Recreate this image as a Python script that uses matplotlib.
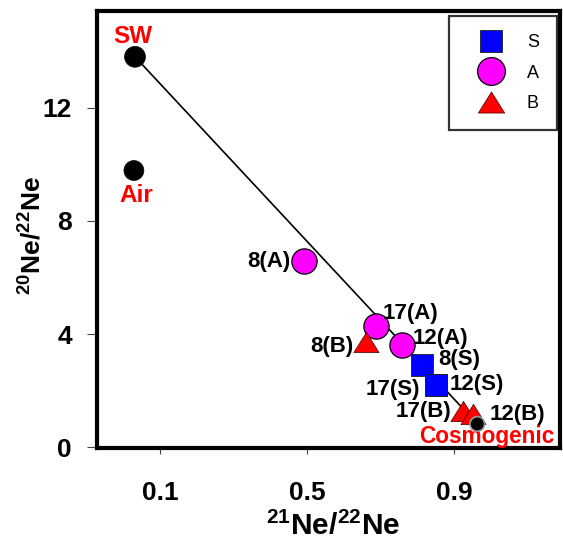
import matplotlib
matplotlib.use("Agg")
import matplotlib.pyplot as plt
from matplotlib.lines import Line2D

plt.rcParams['font.family'] = ['Liberation Sans', 'DejaVu Sans']
plt.rcParams['mathtext.fontset'] = 'custom'
plt.rcParams['mathtext.rm'] = 'Liberation Sans'
plt.rcParams['mathtext.bf'] = 'Liberation Sans:bold'

# Data
s_labels = ["8(S)", "17(S)", "12(S)"]
s_x = [0.813, 0.850, 0.851]
s_y = [2.90, 2.20, 2.21]

a_labels = ["8(A)", "17(A)", "12(A)"]
a_x = [0.492, 0.688, 0.758]
a_y = [6.57, 4.27, 3.60]

b_labels = ["8(B)", "17(B)", "12(B)"]
b_x = [0.661, 0.924, 0.952]
b_y = [3.70, 1.27, 1.16]

end_labels = ["SW", "Air", "Cosmogenic"]
end_x = [0.032, 0.029, 0.963]
end_y = [13.80, 9.78, 0.82]

mix_x = [end_x[0], end_x[2]]
mix_y = [end_y[0], end_y[2]]

x_ticks = [0.1, 0.5, 0.9]
y_ticks = [0, 4, 8, 12]

tri = [(0, 0.8), (-1, -0.8), (1, -0.8), (0, 0.8)]

fig = plt.figure(figsize=(5.63, 5.44), dpi=100)
ax = fig.add_axes([97/563, 1-448/544, 463/563, 437/544])

ax.plot(mix_x, mix_y, color='black', lw=1.2, zorder=2)

ax.scatter(s_x, s_y, marker='s', s=250, c='#0000FF', edgecolors='#202020', linewidths=0.6, zorder=3)
ax.scatter(a_x, a_y, marker='o', s=330, c='#FF00FF', edgecolors='black', linewidths=0.9, zorder=3)
ax.scatter(b_x, b_y, marker=tri, s=330, c='#FF0000', edgecolors='#400000', linewidths=0.5, zorder=3)
ax.scatter(end_x, end_y, marker='o', s=[225, 205, 110], c='black', edgecolors=['black', 'black', '#999999'],
           linewidths=[0.5, 0.5, 1.2], zorder=4)

lbl_kw = dict(textcoords='offset points', fontsize=16, fontweight='bold', va='center')
# sample label offsets in points
s_off = [(11.5, 4.3, 'left'), (-11.5, -3, 'right'), (10, 0, 'left')]
a_off = [(-10, 0, 'right'), (4.5, 9.5, 'left'), (8, 5, 'left')]
b_off = [(-9.5, -3, 'right'), (-8, 0, 'right'), (12, 0, 'left')]
for lbls, xs, ys, offs in [(s_labels, s_x, s_y, s_off), (a_labels, a_x, a_y, a_off), (b_labels, b_x, b_y, b_off)]:
    for t, x, y, (dx, dy, ha) in zip(lbls, xs, ys, offs):
        ax.annotate(t, (x, y), xytext=(dx, dy), ha=ha, **lbl_kw)

end_off = [(-1.5, 14.5, 17.5), (1.5, -18, 17.5), (7.0, -9, 16.3)]
for t, x, y, (dx, dy, fs) in zip(end_labels, end_x, end_y, end_off):
    ax.annotate(t, (x, y), xytext=(dx, dy), ha='center', color='#FF0000',
                **dict(lbl_kw, fontsize=fs))

ax.set_xlim(-0.0714, 1.188)
ax.set_ylim(-0.03, 15.42)
ax.set_xticks(x_ticks)
ax.set_xticklabels([str(v) for v in x_ticks])
ax.set_yticks(y_ticks)
ax.set_yticklabels([str(v) for v in y_ticks])
for lab in ax.get_xticklabels() + ax.get_yticklabels():
    lab.set_fontweight('bold')
    lab.set_fontsize(19)
ax.tick_params(axis='y', direction='out', length=7, width=0.8, color='#444444', pad=11)
ax.tick_params(axis='x', direction='out', length=4.5, width=0.8, color='#444444', pad=19)

for sp in ax.spines.values():
    sp.set_linewidth(3)
    sp.set_color('black')

ax.set_xlabel(r'$\mathbf{{}^{21}Ne/{}^{22}Ne}$', fontsize=21.5)
ax.set_ylabel(r'$\mathbf{{}^{20}Ne/{}^{22}Ne}$', fontsize=19)
ax.xaxis.set_label_coords(0.51, -0.146)
ax.yaxis.set_label_coords(-0.110, 0.487)

handles = [
    Line2D([], [], ls='none', marker='s', markersize=15.5, markerfacecolor='#0000FF', markeredgecolor='#202020', markeredgewidth=0.6),
    Line2D([], [], ls='none', marker='o', markersize=20, markerfacecolor='#FF00FF', markeredgecolor='black', markeredgewidth=0.9),
    Line2D([], [], ls='none', marker=tri, markersize=19, markerfacecolor='#FF0000', markeredgecolor='#400000', markeredgewidth=0.5),
]
leg = ax.legend(handles, ['S', 'A', 'B'], loc='upper right', bbox_to_anchor=(0.9935, 0.9886),
                borderaxespad=0, fontsize=13, frameon=True, fancybox=False, edgecolor='black',
                handletextpad=0.7, labelspacing=0.75, borderpad=1.0, handlelength=2.6)
leg.get_frame().set_linewidth(1.6)

fig.savefig('out.png', dpi=100)
